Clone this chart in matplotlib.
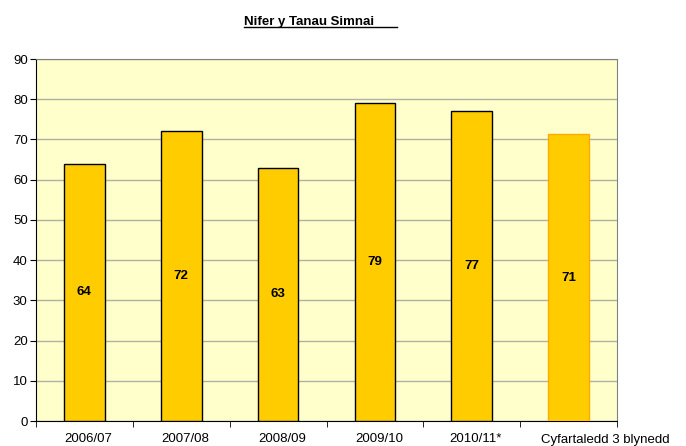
import numpy as np
import matplotlib.pyplot as plt
from matplotlib.lines import Line2D
from matplotlib.transforms import ScaledTranslation

plt.rcParams['font.family'] = ['Liberation Sans', 'DejaVu Sans']

categories = ['2006/07', '2007/08', '2008/09', '2009/10', '2010/11*', 'Cyfartaledd 3 blynedd']
values = [64, 72, 63, 79, 77, 71.33]
labels = ['64', '72', '63', '79', '77', '71']

fig = plt.figure(figsize=(6.86, 4.46), dpi=100)
ax = fig.add_axes([36/686, 1 - 421/446, 581/686, 362/446])
ax.set_facecolor('#FFFFCC')

x = np.arange(len(categories))
edges = ['black'] * 5 + ['#FFAA00']
ax.bar(x, values, width=0.42, color='#FFCC00', edgecolor=edges, linewidth=1, zorder=3)

for xi, v, lab in zip(x, values, labels):
    ax.text(xi, v / 2, lab, ha='center', va='center', fontsize=9.5, fontweight='bold', zorder=4)

ax.set_xlim(-0.5, len(categories) - 0.5)
ax.set_ylim(0, 90)
ax.set_yticks(range(0, 91, 10))
ax.yaxis.grid(True, color='#B0B0A8', linewidth=1, zorder=0)
ax.set_xticks(x)
ax.set_xticklabels(categories)
ax.set_xticks(np.arange(-0.5, len(categories)), minor=True)
ax.tick_params(axis='x', which='major', length=0, pad=9, labelsize=9.5)
ax.tick_params(axis='x', which='minor', length=4, color='black')
ax.tick_params(axis='y', length=4, labelsize=9.5, pad=2)

# labels sit a bit right of the category centres in the original
shifts = [4, 4, 4, 4, 4, 37]
for lab, dx in zip(ax.get_xticklabels(), shifts):
    lab.set_transform(lab.get_transform() + ScaledTranslation(dx / 100, 0, fig.dpi_scale_trans))

for s in ['left', 'bottom']:
    ax.spines[s].set_color('black')
for s in ['top', 'right']:
    ax.spines[s].set_color('#808080')

fig.text(244/686, 1 - 25/446, 'Nifer y Tanau Simnai', fontsize=9.5, fontweight='bold', va='baseline', ha='left')
fig.add_artist(Line2D([244/686, 397/686], [1 - 26.5/446, 1 - 26.5/446], color='black', linewidth=1))

fig.savefig('out.png', dpi=100)
